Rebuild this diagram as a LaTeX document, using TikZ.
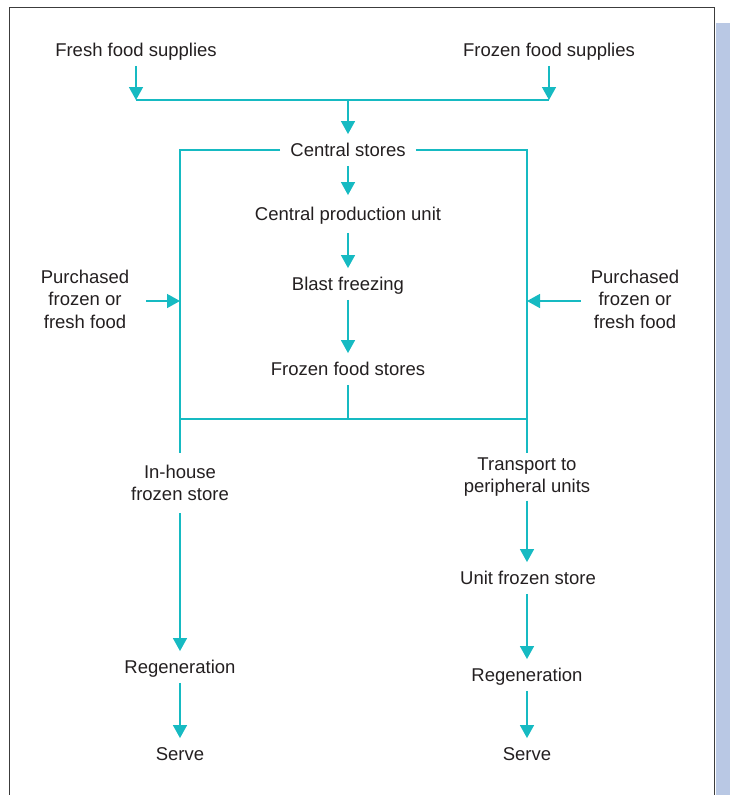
\documentclass[tikz,border=0pt]{standalone}
\usepackage{fontspec}
\setmainfont{Liberation Sans}
\usetikzlibrary{arrows.meta}
\definecolor{flow}{RGB}{22,186,194}
\definecolor{ink}{RGB}{35,31,32}
\definecolor{framegray}{RGB}{60,60,60}
\definecolor{sidebar}{RGB}{185,200,228}
\tikzset{
  lbl/.style={font=\fontsize{18.5}{22.5}\selectfont, text=ink, text height=16pt, text depth=3.5pt, inner ysep=6pt, inner xsep=10pt, anchor=center},
  multi/.style={font=\fontsize{18.5}{22.5}\selectfont, text=ink, align=center, inner xsep=4pt, inner ysep=12pt, anchor=center},
  link/.style={draw=flow, line width=1.5pt},
  arr/.style={link, -{Triangle[length=13pt,width=14pt]}, color=flow}
}
\begin{document}
\begin{tikzpicture}[x=1pt,y=-1pt]
\useasboundingbox (0,0) rectangle (730,795);
% frame and sidebar
\fill[sidebar] (716,23) rectangle (730,795);
\draw[framegray, line width=1.5pt] (9.5,795) -- (9.5,7.5) -- (714.5,7.5) -- (714.5,795);

% nodes
\node[lbl] (fresh) at (136,50) {Fresh food supplies};
\node[lbl] (frozen) at (549,50) {Frozen food supplies};
\node[lbl] (cs) at (348,150) {Central stores};
\node[lbl, inner ysep=9pt] (cpu) at (348,214) {Central production unit};
\node[lbl] (bf) at (348,284) {Blast freezing};
\node[lbl] (ffs) at (348,369) {Frozen food stores};
\node[multi] (pl) at (85,299) {Purchased\\frozen or\\fresh food};
\node[multi] (pr) at (635,299) {Purchased\\frozen or\\fresh food};
\node[multi] (ih) at (180,483) {In-house\\frozen store};
\node[multi, inner ysep=4pt] (tp) at (527,477) {Transport to\\peripheral units};
\node[lbl] (ufs) at (528,578) {Unit frozen store};
\node[lbl] (regl) at (180,667) {Regeneration};
\node[lbl] (servel) at (180,754) {Serve};
\node[lbl] (regr) at (527,675) {Regeneration};
\node[lbl] (server) at (527,754) {Serve};

% junction coordinates
\coordinate (j1) at (136,100);
\coordinate (j2) at (549,100);
\coordinate (jm) at (348,100);
\coordinate (bl) at (180,419);
\coordinate (br) at (527,419);
\coordinate (bm) at (348,419);
\coordinate (lv) at (180,301);
\coordinate (rv) at (527,301);

% top supplies
\draw[link] (j1) -- (j2);
\draw[arr] (fresh.south) -- (j1);
\draw[arr] (frozen.south) -- (j2);
\draw[arr] (jm) -- (cs.north);

% central chain
\draw[arr] (cs.south) -- (cpu.north);
\draw[arr] (cpu.south) -- (bf.north);
\draw[arr] (bf.south) -- (ffs.north);
\draw[link] (ffs.south) -- (bm);

% outer loop
\draw[link] (cs.west) -| (bl);
\draw[link] (cs.east) -| (br);
\draw[link] (bl) -- (br);

% purchased food
\draw[arr] ([xshift=13pt]pl.east |- lv) -- (lv);
\draw[arr] ([xshift=-6pt]pr.west |- rv) -- (rv);

% left branch
\draw[link] (bl) -- (ih.north);
\draw[arr] (ih.south) -- (regl.north);
\draw[arr] (regl.south) -- (servel.north);

% right branch
\draw[link] (br) -- (tp.north);
\draw[arr] (tp.south) -- (tp.south |- ufs.north);
\draw[arr] (tp.south |- ufs.south) -- (regr.north);
\draw[arr] (regr.south) -- (server.north);
\end{tikzpicture}
\end{document}
